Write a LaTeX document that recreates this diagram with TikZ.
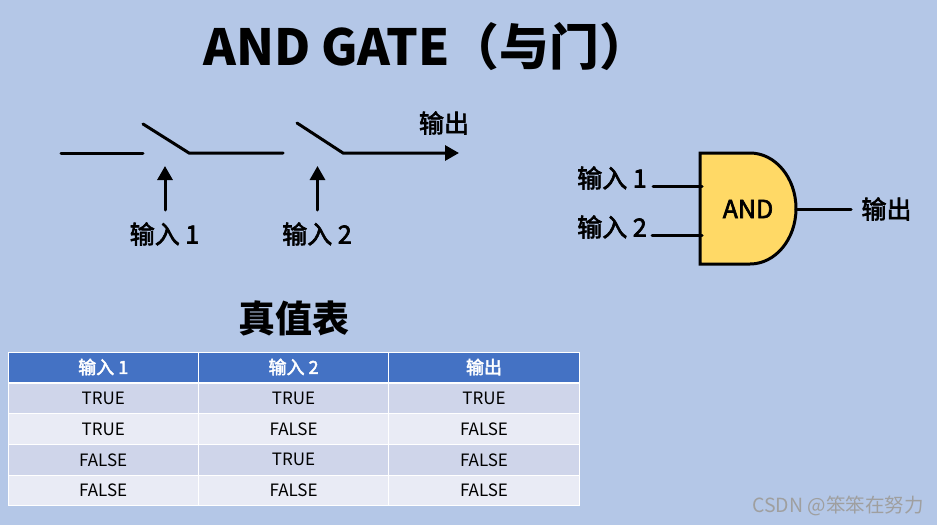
\documentclass[tikz,border=0pt]{standalone}
\usepackage{fontspec}
\setmainfont{Noto Sans CJK SC}
\newfontfamily\midfont[FakeBold=2.6]{Noto Sans CJK SC}
\usetikzlibrary{arrows.meta}
\definecolor{pagebg}{RGB}{180,199,231}
\definecolor{headblue}{RGB}{68,114,196}
\definecolor{rowdark}{RGB}{207,213,234}
\definecolor{rowlight}{RGB}{233,235,245}
\definecolor{gatefill}{RGB}{255,217,102}

\begin{document}
\begin{tikzpicture}[
    x=1pt, y=-1pt,
    >=Stealth,
    wire/.style={line width=3pt, line cap=round},
    signal/.style={wire, -{Triangle[length=14pt, width=15pt]}},
    label/.style={font=\fontsize{25}{25}\midfont, inner sep=0pt},
    headcell/.style={
        draw=white, line width=1pt, fill=headblue, text=white,
        minimum width=190.4pt, minimum height=30pt,
        font=\fontsize{18}{18}\midfont, inner sep=0pt,
    },
    bodycell/.style={
        draw=white, line width=1pt,
        minimum width=190.4pt, minimum height=30.6pt,
        font=\fontsize{17}{17}\selectfont, inner sep=0pt,
    },
]

\def\colstep{190.4}  % horizontal spacing between columns
\def\rowstep{30.6}   % vertical spacing between rows

% background
\fill[pagebg] (0,0) rectangle (937,525);
\useasboundingbox (0,0) rectangle (937,525);

% title
\node[font=\fontsize{49.8}{49.8}\bfseries, inner sep=0pt] (title) at (426,47) {AND GATE（与门）};

% switches
\coordinate (in0) at (61,153);
\coordinate (sw1a) at (143,153);
\coordinate (top1) at (143,124);
\coordinate (sw1b) at (189,153);
\coordinate (sw1c) at (283,153);
\coordinate (top2) at (297,123);
\coordinate (sw2b) at (343,153);
\coordinate (out0) at (459,153);
\draw[wire] (in0) -- (sw1a);
\draw[wire] (top1) -- (sw1b) -- (sw1c);
\draw[signal] (top2) -- (sw2b) -- (out0);
\node[label] (outtext) at (444,123) {输出};

\node[label] (lab1) at (164.5,234) {输入 1};
\node[label] (lab2) at (317,234) {输入 2};
\coordinate (tip1) at (165,166);
\coordinate (tip2) at (317.5,166);
\draw[signal] (tip1 |- 0,210) -- (tip1);
\draw[signal] (tip2 |- 0,210) -- (tip2);

% gate
\draw[wire, fill=gatefill, line join=miter, line cap=butt]
    (700,153) -- (750,153) arc[start angle=-90, end angle=90, x radius=46, y radius=55.5]
    -- (700,264) -- cycle;
\node[font=\fontsize{25}{25}\midfont, inner sep=0pt] (gate) at (748,209) {AND};
\node[label] (gin1) at (612,178) {输入 1};
\node[label] (gin2) at (612,227) {输入 2};
\node[label] (gout) at (886.5,209) {输出};
\coordinate (gin1r) at (653,186);
\coordinate (gin2r) at (652,235);
\coordinate (gin1g) at (702,186);
\coordinate (gin2g) at (702,235);
\coordinate (goutl) at (796,209);
\coordinate (goutr) at (851,209);
\draw[wire] (gin1r) -- (gin1g);
\draw[wire] (gin2r) -- (gin2g);
\draw[wire] (goutl) -- (goutr);

% truth table
\node[font=\fontsize{37}{37}\bfseries, inner sep=0pt] (tabletitle) at (294,318) {真值表};
\foreach \txt [count=\i from 0] in {输入 1, 输入 2, 输出} {
    \node[headcell] (head\i) at ({103.2+\i*\colstep},367) {\txt};
}
\foreach \a/\b/\c [count=\r from 0] in {TRUE/TRUE/TRUE, TRUE/FALSE/FALSE, FALSE/TRUE/FALSE, FALSE/FALSE/FALSE} {
    \pgfmathtruncatemacro{\isdark}{mod(\r,2)==0 ? 1 : 0}
    \ifnum\isdark=1 \def\rowfill{rowdark}\else \def\rowfill{rowlight}\fi
    \node[bodycell, fill=\rowfill] (cell\r a) at (103.2,{398.6+\r*\rowstep}) {\a};
    \node[bodycell, fill=\rowfill] (cell\r b) at ({103.2+\colstep},{398.6+\r*\rowstep}) {\b};
    \node[bodycell, fill=\rowfill] (cell\r c) at ({103.2+2*\colstep},{398.6+\r*\rowstep}) {\c};
}

% mark
\node[font=\fontsize{19.5}{19.5}\selectfont, text=gray!75, inner sep=0pt, anchor=east] (mark) at (924,506) {CSDN @笨笨在努力};
\end{tikzpicture}
\end{document}
